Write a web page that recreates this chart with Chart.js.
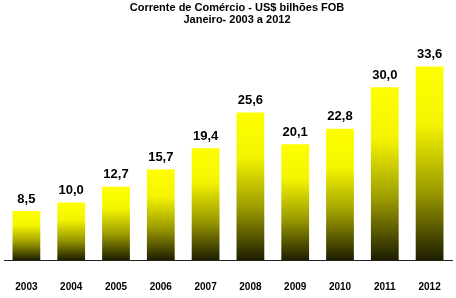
<!DOCTYPE html>
<html>
<head>
<meta charset="utf-8">
<script src="https://cdn.jsdelivr.net/npm/chart.js@4.4.0/dist/chart.umd.min.js"></script>
<style>
html,body{margin:0;padding:0;background:#fff;}
#wrap{width:456px;height:298px;position:relative;}
</style>
</head>
<body>
<div id="wrap"><canvas id="c" width="456" height="298"></canvas></div>
<script>
const categories = ["2003","2004","2005","2006","2007","2008","2009","2010","2011","2012"];
const values = [8.5, 10.0, 12.7, 15.7, 19.4, 25.6, 20.1, 22.8, 30.0, 33.6];
const titleLines = ["Corrente de Comércio - US$ bilhões FOB", "Janeiro- 2003 a 2012"];

const FONT = "'Liberation Sans', Arial, sans-serif";

function barGradient(ctx) {
  const chart = ctx.chart;
  const yScale = chart.scales && chart.scales.y;
  if (!chart.chartArea || !yScale || ctx.parsed === undefined) return '#ffff00';
  const top = yScale.getPixelForValue(ctx.parsed.y);
  const base = yScale.getPixelForValue(0);
  const g = chart.ctx.createLinearGradient(0, top, 0, base);
  g.addColorStop(0, '#ffff00');
  g.addColorStop(0.3, '#f4f400');
  g.addColorStop(0.65, '#9a9a00');
  g.addColorStop(1, '#1e1e00');
  return g;
}

const labelPlugin = {
  id: 'valueLabels',
  afterDatasetsDraw(chart) {
    const c = chart.ctx;
    const meta = chart.getDatasetMeta(0);
    c.save();
    c.font = "bold 13px " + FONT;
    c.fillStyle = '#000';
    c.textAlign = 'center';
    c.textBaseline = 'middle';
    meta.data.forEach((el, i) => {
      const v = chart.data.datasets[0].data[i];
      c.fillText(v.toFixed(1).replace('.', ','), el.x, el.y - 12);
    });
    // title
    c.font = "bold 11px " + FONT;
    titleLines.forEach((t, i) => {
      c.fillText(t, 237, 8 + i * 12);
    });
    c.restore();
  }
};

new Chart(document.getElementById('c'), {
  type: 'bar',
  data: {
    labels: categories,
    datasets: [{
      data: values,
      backgroundColor: barGradient,
      borderWidth: 0,
      categoryPercentage: 1,
      barPercentage: 0.62
    }]
  },
  options: {
    responsive: false,
    animation: false,
    devicePixelRatio: 1,
    layout: { padding: { left: 4, right: 4, top: 29.6, bottom: 2 } },
    plugins: {
      legend: { display: false },
      tooltip: { enabled: false },
      title: { display: false }
    },
    scales: {
      x: {
        grid: { display: false, drawTicks: false },
        border: { display: true, color: '#222', width: 1 },
        ticks: {
          color: '#000',
          padding: 21,
          maxRotation: 0,
          font: { family: FONT, size: 10, weight: 'bold' }
        },
        afterFit(scale) { scale.height = 36; scale.paddingLeft = 0; scale.paddingRight = 0; }
      },
      y: {
        display: false,
        min: 0,
        max: 40
      }
    }
  },
  plugins: [labelPlugin]
});
</script>
</body>
</html>
